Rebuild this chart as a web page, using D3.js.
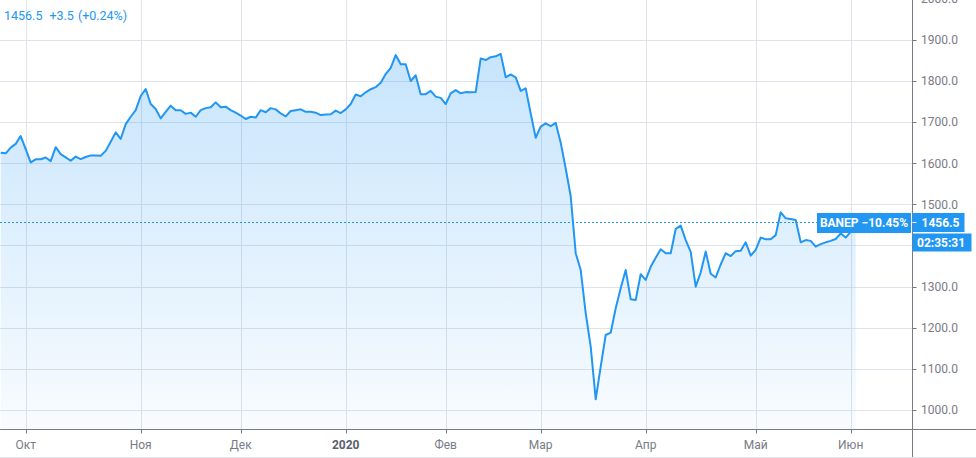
<!DOCTYPE html>
<html><head><meta charset="utf-8">
<script src="https://cdn.jsdelivr.net/npm/d3@7"></script>
<style>
html,body{margin:0;padding:0;background:#fff;}
svg{display:block;font-family:Roboto,"Liberation Sans",sans-serif;}
</style></head>
<body>
<svg id="chart" width="976" height="458"></svg>
<script>
// Daily closes of BANEP, one per trading day (Sep 24 2019 .. Jun 2 2020)
const closes = [
1625.5,1624,1638,1647,1666,1634.5,1602,1609.5,1609.5,1614,
1605,1639,1622,1614,1606,1616,1610,1615,1619,1618.7,
1618,1630,1652,1675,1659,1695,1713,1729,1763.5,1780.5,
1744,1732,1709,1725,1740,1729,1728.7,1720,1723,1713,
1729,1734,1736,1748,1736,1737.5,1729,1723,1716,1707.5,
1713,1711,1729,1724,1734,1731,1721,1714,1727,1729,
1731,1725,1725,1723,1717,1718.5,1719,1728,1722,1731,
1744,1767,1763,1772.5,1780,1785,1796,1817,1832,1863,
1841,1840.6,1800,1814,1768,1768,1776,1762,1759,1744,
1770,1778,1770,1773,1772.5,1773,1855,1851,1858,1860,
1866,1809,1816,1809,1776,1782,1721,1662,1689,1697,
1690,1698,1650,1587,1519.5,1381,1340,1235,1153.5,1025.5,
1105,1182,1187.6,1247,1295.6,1340,1269,1267,1330,1316,
1348,1370,1390.5,1381,1381,1440,1448,1413,1384,1299.5,
1334,1385,1331,1322,1353.5,1381,1374,1386,1387,1407.5,
1375,1389,1419,1415,1415,1425,1480.5,1466,1464,1462,
1407.5,1413,1411,1397,1403,1407.5,1411,1415.6,1429,1419,
1433,1456.5
];
// Month boundaries: index of the first trading day of each month
const monthIndex  = [5, 28, 48, 69, 89, 108, 129, 151, 170];
const monthLabels = ["Окт","Ноя","Дек","2020","Фев","Мар","Апр","Май","Июн"];
const priceTicks  = [1000,1100,1200,1300,1400,1500,1600,1700,1800,1900,2000];
const symbol = "BANEP";
const lastPrice = 1456.5;
const change = "+3.5";
const changePct = "(+0.24%)";
const periodPct = "−10.45%";
const countdown = "02:35:31";

const W = 976, H = 458, plotR = 912.5, plotB = 429.5;
const svg = d3.select("#chart");
const blue = "#2196f3", grid = "#e0e3eb", axisC = "#787b86", txt = "#787b86";

const x = d3.scaleLinear().domain([0, closes.length - 1]).range([0.7, 0.7 + 5 * (closes.length - 1)]);
const y = d3.scaleLinear().domain([1000, 1900]).range([409.8, 39.9]);

svg.append("rect").attr("width", W).attr("height", H).attr("fill", "#fff");

const defs = svg.append("defs");
const grad = defs.append("linearGradient").attr("id", "fillg")
  .attr("gradientUnits", "userSpaceOnUse").attr("x1", 0).attr("x2", 0).attr("y1", 40).attr("y2", plotB);
grad.append("stop").attr("offset", 0).attr("stop-color", blue).attr("stop-opacity", 0.26);
grad.append("stop").attr("offset", 1).attr("stop-color", blue).attr("stop-opacity", 0.03);
defs.append("clipPath").attr("id", "plotclip").append("rect")
  .attr("x", 0).attr("y", 0).attr("width", plotR).attr("height", plotB);

// grid
const g = svg.append("g").attr("clip-path", "url(#plotclip)");
g.selectAll(".hg").data(priceTicks).join("line")
  .attr("x1", 0).attr("x2", plotR).attr("y1", d => Math.round(y(d)) + 0.5).attr("y2", d => Math.round(y(d)) + 0.5)
  .attr("stroke", grid).attr("stroke-width", 1);
g.selectAll(".vg").data(monthIndex).join("line")
  .attr("x1", d => Math.round(x(d)) + 0.5).attr("x2", d => Math.round(x(d)) + 0.5)
  .attr("y1", 0).attr("y2", plotB).attr("stroke", grid).attr("stroke-width", 1);

// area + line
const area = d3.area().x((d, i) => x(i)).y0(plotB).y1(d => y(d));
const line = d3.line().x((d, i) => x(i)).y(d => y(d));
g.append("path").datum(closes).attr("d", area).attr("fill", "url(#fillg)");
g.append("path").datum(closes).attr("d", line).attr("fill", "none")
  .attr("stroke", blue).attr("stroke-width", 2).attr("stroke-linejoin", "round");

// last price dashed line
const yl = Math.round(y(lastPrice)) + 0.5;
svg.append("line").attr("x1", 0).attr("x2", plotR).attr("y1", yl).attr("y2", yl)
  .attr("stroke", blue).attr("stroke-width", 1).attr("stroke-dasharray", "2,2");

// axes lines
svg.append("line").attr("x1", plotR).attr("x2", plotR).attr("y1", 0).attr("y2", H).attr("stroke", axisC);
svg.append("line").attr("x1", 0).attr("x2", W).attr("y1", plotB).attr("y2", plotB).attr("stroke", axisC);
svg.append("line").attr("x1", 0).attr("x2", W).attr("y1", 457.5).attr("y2", 457.5).attr("stroke", grid);

// right price axis
const ra = svg.append("g");
ra.selectAll("line").data(priceTicks).join("line")
  .attr("x1", plotR).attr("x2", plotR + 4).attr("y1", d => Math.round(y(d)) + 0.5).attr("y2", d => Math.round(y(d)) + 0.5)
  .attr("stroke", axisC);
ra.selectAll("text").data(priceTicks).join("text")
  .attr("x", 921).attr("y", d => y(d) + 4.3)
  .attr("font-size", 12).attr("fill", txt).text(d => d3.format(".1f")(d));

// bottom time axis
const ba = svg.append("g");
ba.selectAll("line").data(monthIndex).join("line")
  .attr("x1", d => Math.round(x(d)) + 0.5).attr("x2", d => Math.round(x(d)) + 0.5)
  .attr("y1", plotB).attr("y2", plotB + 4).attr("stroke", axisC);
ba.selectAll("text").data(monthIndex).join("text")
  .attr("x", d => x(d)).attr("y", 449).attr("text-anchor", "middle")
  .attr("font-size", 12)
  .attr("font-weight", (d, i) => monthLabels[i] === "2020" ? "bold" : "normal")
  .attr("fill", (d, i) => monthLabels[i] === "2020" ? "#5d606b" : txt)
  .text((d, i) => monthLabels[i]);

// legend top-left
const leg = svg.append("text").attr("x", 4).attr("y", 20).attr("font-size", 12.5).attr("fill", blue);
leg.append("tspan").text(lastPrice.toFixed(1));
leg.append("tspan").attr("dx", 7).text(change);
leg.append("tspan").attr("dx", 4).text(changePct);

// symbol label box
svg.append("rect").attr("x", 817).attr("y", 213).attr("width", 94).attr("height", 20).attr("fill", blue);
svg.append("text").attr("x", 864).attr("y", 227).attr("text-anchor", "middle")
  .attr("font-size", 12).attr("font-weight", "bold").attr("fill", "#fff").text(symbol + " " + periodPct);

// price label
svg.append("rect").attr("x", 912.5).attr("y", 213).attr("width", 52).attr("height", 19).attr("fill", blue);
svg.append("line").attr("x1", plotR).attr("x2", plotR + 4).attr("y1", yl).attr("y2", yl).attr("stroke", "#fff");
svg.append("text").attr("x", 921.5).attr("y", 227).attr("font-size", 12).attr("font-weight", "bold")
  .attr("fill", "#fff").text(lastPrice.toFixed(1));
// countdown label
svg.append("rect").attr("x", 912.5).attr("y", 233.5).attr("width", 59).attr("height", 18).attr("fill", blue);
svg.append("text").attr("x", 917).attr("y", 247).attr("font-size", 12).attr("font-weight", "bold")
  .attr("fill", "#fff").text(countdown);
</script>
</body></html>
